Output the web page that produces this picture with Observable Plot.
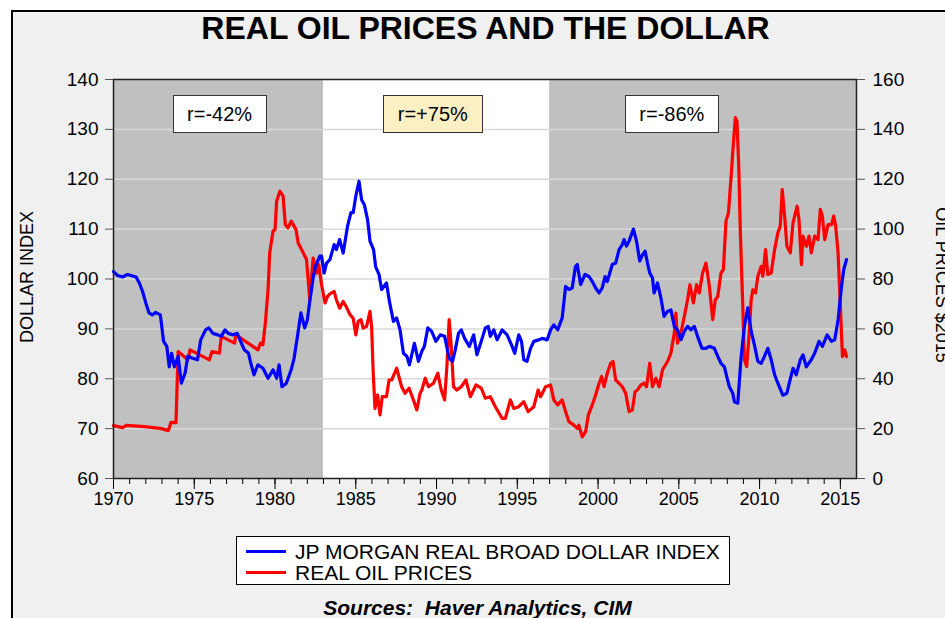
<!DOCTYPE html>
<html>
<head>
<meta charset="utf-8">
<script src="https://cdn.jsdelivr.net/npm/d3@7"></script>
<script src="https://cdn.jsdelivr.net/npm/@observablehq/plot@0.6"></script>
<style>
  html, body { margin: 0; padding: 0; background: #ffffff; }
  #wrap { position: relative; width: 945px; height: 618px; overflow: hidden; font-family: "Liberation Sans", Arial, sans-serif; color: #000; }
  #frame { position: absolute; left: 11px; top: 10px; width: 960px; height: 640px; border-left: 2px solid #000; border-top: 2px solid #000; background: #f0f0f0; }
  #chart { position: absolute; left: 0; top: 0; }
  .title { position: absolute; left: 0; width: 971px; top: 12px; text-align: center; font-weight: bold; font-size: 32px; line-height: 32px; white-space: nowrap; }
  .ylab { position: absolute; font-size: 18px; white-space: nowrap; line-height: 18px; }
  .rbox { position: absolute; box-sizing: border-box; border: 1.5px solid #333; font-size: 20px; line-height: 20px; display: flex; align-items: center; justify-content: center; white-space: nowrap; }
  #legend { position: absolute; left: 236px; top: 536px; width: 494px; height: 49px; box-sizing: border-box; border: 1px solid #000; background: #fff; }
  .sw { position: absolute; left: 9px; width: 40px; height: 3px; }
  .lt { position: absolute; left: 58px; font-size: 21px; line-height: 21px; white-space: nowrap; }
  .src { position: absolute; left: 0; width: 955px; top: 597px; text-align: center; font-weight: bold; font-style: italic; font-size: 21px; line-height: 21px; white-space: pre; }
</style>
</head>
<body>
<div id="wrap">
  <div id="frame"></div>
  <div id="chart"></div>
</div>
<script>
// ---- Data ----
const dollarYears = [1970.0,1970.25,1970.56,1970.87,1971.4,1971.6,1971.8,1972.0,1972.2,1972.4,1972.6,1972.9,1973.1,1973.3,1973.45,1973.6,1973.77,1974.0,1974.2,1974.43,1974.6,1974.9,1975.2,1975.4,1975.7,1975.9,1976.15,1976.46,1976.67,1976.9,1977.1,1977.4,1977.66,1977.87,1978.1,1978.36,1978.5,1978.7,1978.94,1979.25,1979.57,1979.88,1980.1,1980.25,1980.43,1980.7,1981.0,1981.18,1981.39,1981.6,1981.84,1982.0,1982.15,1982.36,1982.5,1982.77,1982.88,1983.04,1983.19,1983.4,1983.66,1983.8,1984.0,1984.22,1984.49,1984.7,1984.84,1985.0,1985.2,1985.36,1985.53,1985.73,1985.88,1986.1,1986.23,1986.44,1986.6,1986.9,1987.1,1987.33,1987.53,1987.74,1987.95,1988.16,1988.32,1988.63,1988.88,1989.09,1989.25,1989.46,1989.7,1989.96,1990.23,1990.5,1990.78,1990.99,1991.16,1991.36,1991.53,1991.74,1992.03,1992.3,1992.5,1992.77,1993.02,1993.2,1993.33,1993.54,1993.75,1994.06,1994.37,1994.68,1994.84,1995.09,1995.26,1995.4,1995.6,1995.82,1996.02,1996.33,1996.54,1996.85,1997.06,1997.26,1997.5,1997.78,1997.99,1998.2,1998.4,1998.6,1998.71,1998.92,1999.19,1999.44,1999.64,1999.85,2000.06,2000.26,2000.43,2000.57,2000.88,2001.09,2001.3,2001.5,2001.61,2001.76,2001.92,2002.19,2002.38,2002.58,2002.71,2002.91,2003.06,2003.2,2003.37,2003.47,2003.68,2003.89,2004.09,2004.3,2004.51,2004.72,2004.92,2005.13,2005.34,2005.54,2005.75,2005.96,2006.16,2006.43,2006.68,2006.89,2007.2,2007.41,2007.61,2007.82,2007.97,2008.13,2008.34,2008.44,2008.65,2008.86,2009.06,2009.27,2009.48,2009.68,2009.89,2010.1,2010.3,2010.51,2010.72,2010.93,2011.13,2011.44,2011.69,2011.86,2012.07,2012.27,2012.52,2012.69,2012.89,2013.2,2013.41,2013.68,2013.89,2014.18,2014.45,2014.65,2014.86,2015.07,2015.21,2015.38];
const dollarValues = [101.5,100.7,100.4,100.9,100.4,99.2,97.5,95.2,93.2,92.8,93.3,92.8,87.5,86.5,82.4,85.1,82.4,84.5,79.1,81.1,84.5,84.1,83.8,87.8,89.8,90.2,89.1,88.8,88.5,89.8,89.1,88.8,89.1,87.5,85.8,85.1,83.1,80.8,82.8,82.1,80.1,81.8,80.1,82.8,78.4,79.1,81.8,84.1,88.5,93.2,90.2,91.8,95.5,100.2,102.5,104.6,104.6,101.2,103.2,103.9,106.9,105.9,107.9,105.2,110.6,113.3,113.3,116.6,119.6,115.9,114.9,111.9,107.6,105.9,102.5,100.9,97.9,99.2,95.2,91.5,92.2,89.8,85.1,84.5,82.8,87.1,83.5,85.5,86.5,90.2,89.5,87.5,88.8,88.5,84.1,83.5,85.8,89.1,89.8,88.1,86.5,88.8,84.8,87.5,90.2,90.5,88.5,89.8,87.8,89.8,88.8,86.5,85.1,88.8,87.5,83.8,83.5,86.1,87.5,87.8,88.1,87.8,89.8,90.8,89.8,92.2,98.5,97.9,98.2,102.5,102.9,98.9,100.9,100.5,99.5,98.2,97.2,98.2,100.5,99.5,102.9,103.2,105.9,106.9,107.9,106.6,107.6,110.0,107.6,103.6,104.6,105.6,103.2,101.2,100.2,97.2,99.2,96.2,92.5,93.5,93.8,90.5,89.8,87.8,89.5,90.5,89.8,90.5,88.5,86.1,86.1,86.5,86.1,84.5,83.1,82.4,80.4,78.4,77.1,75.4,75.1,84.5,90.5,94.2,89.5,86.8,83.5,83.1,84.5,86.1,83.8,80.8,79.1,76.7,77.1,79.4,82.1,80.8,83.8,84.8,82.4,83.8,85.1,87.5,86.5,88.8,87.5,87.8,91.8,98.5,101.9,103.9];

const oilYears = [1970.0,1970.56,1970.8,1971.9,1972.9,1973.4,1973.56,1973.87,1974.0,1974.6,1974.74,1975.94,1976.1,1976.56,1976.67,1977.5,1977.58,1978.94,1979.1,1979.25,1979.4,1979.57,1979.67,1979.88,1980.0,1980.1,1980.3,1980.5,1980.64,1980.8,1981.0,1981.3,1981.43,1981.64,1981.8,1981.95,1982.15,1982.36,1982.57,1982.7,1982.9,1983.1,1983.25,1983.4,1983.66,1983.8,1984.0,1984.22,1984.4,1984.64,1984.84,1985.0,1985.15,1985.32,1985.46,1985.67,1985.88,1985.98,1986.08,1986.19,1986.35,1986.5,1986.64,1986.9,1987.06,1987.22,1987.53,1987.84,1988.05,1988.3,1988.57,1988.78,1988.98,1989.09,1989.3,1989.5,1989.81,1990.08,1990.29,1990.5,1990.64,1990.78,1990.91,1991.05,1991.26,1991.53,1991.82,1992.09,1992.44,1992.77,1993.02,1993.33,1993.64,1994.06,1994.26,1994.57,1994.78,1995.09,1995.4,1995.67,1996.02,1996.29,1996.44,1996.75,1997.06,1997.26,1997.5,1997.78,1997.99,1998.2,1998.5,1998.71,1998.81,1999.02,1999.23,1999.4,1999.64,1999.85,2000.06,2000.22,2000.37,2000.57,2000.78,2000.93,2001.09,2001.3,2001.5,2001.71,2001.92,2002.12,2002.29,2002.44,2002.65,2002.85,2003.0,2003.2,2003.37,2003.58,2003.78,2003.99,2004.3,2004.51,2004.72,2004.82,2004.92,2005.13,2005.34,2005.54,2005.69,2005.9,2006.1,2006.27,2006.47,2006.68,2006.89,2007.1,2007.26,2007.41,2007.61,2007.76,2007.92,2008.07,2008.24,2008.38,2008.5,2008.6,2008.71,2008.81,2008.96,2009.06,2009.2,2009.33,2009.48,2009.58,2009.75,2009.89,2010.1,2010.2,2010.37,2010.51,2010.72,2010.93,2011.13,2011.28,2011.4,2011.55,2011.69,2011.9,2012.07,2012.32,2012.44,2012.59,2012.69,2012.89,2013.06,2013.2,2013.41,2013.62,2013.76,2013.89,2014.03,2014.24,2014.45,2014.59,2014.71,2014.86,2015.0,2015.13,2015.27,2015.38];
const oilValues = [21.2,20.4,21.3,20.8,20.1,19.2,22.5,22.4,50.9,47.6,51.6,47.6,50.9,50.3,57.0,54.3,57.6,51.6,54.3,53.6,62.3,75.7,90.5,99.2,99.8,111.2,115.2,113.2,101.8,100.5,103.2,99.8,94.5,91.8,89.8,87.8,71.7,88.4,82.4,85.8,77.1,70.4,73.0,74.0,75.0,71.7,68.3,71.0,69.0,65.7,64.3,57.6,63.0,63.7,60.3,61.0,67.0,61.0,42.2,28.1,33.5,25.5,32.8,32.8,39.5,39.5,44.2,36.8,34.2,36.2,31.5,27.5,34.2,35.5,40.2,36.8,38.2,42.2,35.5,31.5,44.9,63.7,52.9,36.8,35.5,36.8,39.5,32.8,37.5,36.2,32.2,32.8,28.8,24.1,24.1,31.5,28.1,28.8,30.8,26.8,28.8,35.5,32.8,36.8,37.5,31.5,29.5,31.5,26.8,22.8,21.4,20.1,21.4,16.7,18.8,25.5,29.5,33.5,38.2,40.9,36.8,42.2,46.2,46.9,39.5,38.2,36.8,34.2,26.8,27.4,34.8,35.5,37.5,38.2,36.8,46.2,36.8,40.2,36.8,43.6,46.9,50.3,58.3,66.3,54.3,58.3,65.0,71.7,77.7,70.4,77.7,74.4,82.4,86.4,77.1,63.7,71.7,73.0,82.4,83.8,103.2,106.5,121.3,134.7,144.7,143.4,125.3,98.5,69.0,47.6,44.9,55.6,71.7,75.7,74.4,81.1,85.1,81.1,91.8,81.8,82.4,91.8,98.5,101.2,115.9,105.2,93.1,90.5,102.5,109.2,103.9,85.8,97.2,93.1,97.2,90.5,97.2,95.8,107.9,105.2,95.8,101.8,101.8,105.2,101.2,90.5,69.0,48.9,51.6,48.9];

const shadedStarts = [1970, 1997];
const shadedEnds = [1983, 2016];
const dollarTicks = [60, 70, 80, 90, 100, 110, 120, 130, 140];
const oilTicks = [0, 20, 40, 60, 80, 100, 120, 140, 160];
const yearTicks = d3.range(1970, 2016, 1);
const yearLabels = [1970, 1975, 1980, 1985, 1990, 1995, 2000, 2005, 2010, 2015];
const corrLabels = ["r=-42%", "r=+75%", "r=-86%"];
const corrYears = [1976.6, 1989.8, 2004.6];

const seriesNames = ["JP MORGAN REAL BROAD DOLLAR INDEX", "REAL OIL PRICES"];

// ---- Build tables ----
const toDollarScale = o => 60 + o / 2;
const dollar = dollarYears.map((t, i) => ({t, v: dollarValues[i]}));
const oil = oilYears.map((t, i) => ({t, v: toDollarScale(oilValues[i])}));
const periods = shadedStarts.map((s, i) => ({s, e: shadedEnds[i]}));

const W = 945, H = 520;
const chart = Plot.plot({
  width: W, height: H,
  marginLeft: 113, marginRight: 89, marginTop: 79, marginBottom: 42,
  x: {domain: [1970, 2016]},
  y: {domain: [60, 140]},
  style: {background: "transparent", fontFamily: "'Liberation Sans', Arial, sans-serif", fontSize: "19px", color: "#000", overflow: "visible"},
  marks: [
    Plot.frame({fill: "#ffffff"}),
    Plot.rect(periods, {x1: "s", x2: "e", fill: "#c0c0c0"}),
    Plot.gridY({ticks: dollarTicks.slice(1, -1), stroke: "#d9d9d9", strokeOpacity: 1, strokeWidth: 1.5}),
    Plot.line(oil, {x: "t", y: "v", stroke: "#ff0000", strokeWidth: 3.2, curve: "linear"}),
    Plot.line(dollar, {x: "t", y: "v", stroke: "#0000ff", strokeWidth: 3.2, curve: "linear"}),
    Plot.frame({stroke: "#222", strokeWidth: 1.5}),
    Plot.axisY({ticks: dollarTicks, anchor: "left", tickSize: 8, tickPadding: 7, label: null, fontSize: 19, stroke: "#555"}),
    Plot.axisY({ticks: oilTicks.map(toDollarScale), anchor: "right", tickSize: 8, tickPadding: 8, label: null, fontSize: 19, stroke: "#555", tickFormat: d => String(Math.round((d - 60) * 2))}),
    Plot.axisX({ticks: yearTicks, anchor: "bottom", tickSize: 6, text: null, label: null, stroke: "#000"}),
    Plot.axisX({ticks: yearLabels, anchor: "bottom", tickSize: 11, tickPadding: 3, label: null, fontSize: 18, tickFormat: d => String(d), stroke: "#000"})
  ]
});
document.getElementById("chart").appendChild(chart);

const wrap = document.getElementById("wrap");
function add(cls, text, css) {
  const d = document.createElement("div");
  d.className = cls;
  d.textContent = text;
  Object.assign(d.style, css || {});
  wrap.appendChild(d);
  return d;
}

add("title", "REAL OIL PRICES AND THE DOLLAR");
add("ylab", "DOLLAR INDEX", {left: "27px", top: "277px", transform: "translate(-50%,-50%) rotate(-90deg)"});
add("ylab", "OIL PRICES $2015", {left: "942px", top: "285px", transform: "translate(-50%,-50%) rotate(90deg)"});

const xs = chart.scale("x"), ys = chart.scale("y");
const boxFills = ["#ffffff", "#fbf0c4", "#ffffff"];
const boxW = [94, 100, 94];
corrLabels.forEach((lab, i) => {
  const cx = xs.apply(corrYears[i]);
  const cy = ys.apply(133);
  add("rbox", lab, {left: (cx - boxW[i] / 2) + "px", top: (cy - 19) + "px", width: boxW[i] + "px", height: "38px", background: boxFills[i]});
});

const legend = document.createElement("div");
legend.id = "legend";
wrap.appendChild(legend);
const colors = ["#0000ff", "#ff0000"];
seriesNames.forEach((n, i) => {
  const sw = document.createElement("div");
  sw.className = "sw";
  sw.style.top = (13 + i * 21) + "px";
  sw.style.background = colors[i];
  legend.appendChild(sw);
  const t = document.createElement("div");
  t.className = "lt";
  t.style.top = (4 + i * 21) + "px";
  t.textContent = n;
  legend.appendChild(t);
});

add("src", "Sources:  Haver Analytics, CIM");
</script>
</body>
</html>
